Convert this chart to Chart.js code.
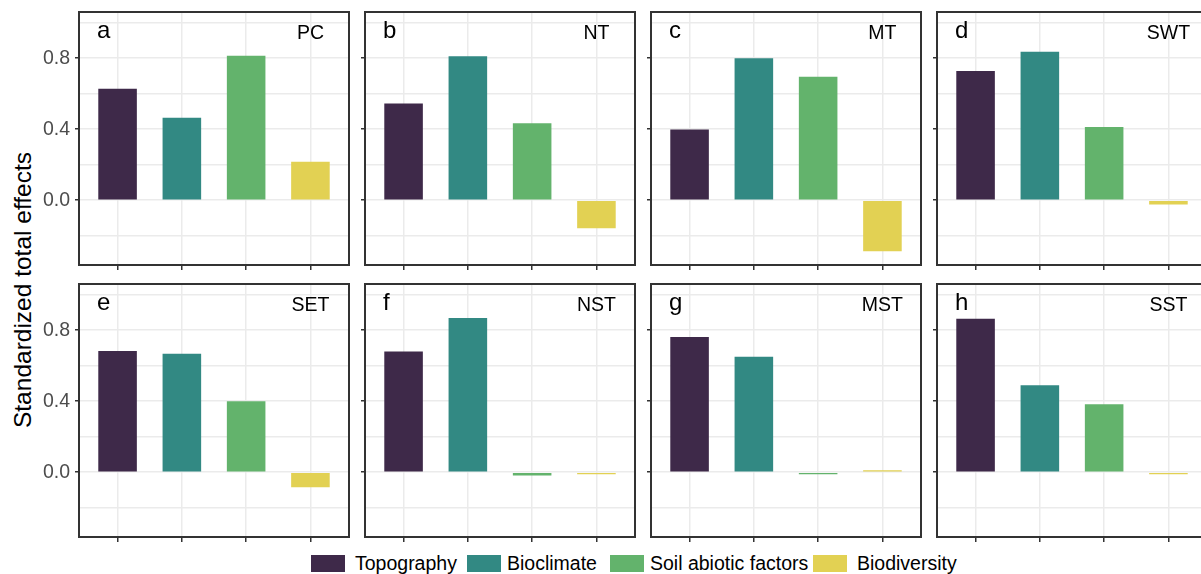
<!DOCTYPE html>
<html>
<head>
<meta charset="utf-8">
<script src="https://cdn.jsdelivr.net/npm/chart.js@4/dist/chart.umd.min.js"></script>
<style>
  html, body { margin: 0; padding: 0; background: #fff; overflow: hidden; width: 1201px; height: 574px; }
  body { position: relative; font-family: "Liberation Sans", Arial, sans-serif; }
  .panel { position: absolute; }
  .ytitle {
    position: absolute; left: 23px; top: 290px;
    transform: translate(-50%, -50%) rotate(-90deg);
    font-size: 24.5px; color: #000; white-space: nowrap;
  }
  .legend-box { position: absolute; width: 34px; height: 17px; top: 555px; }
  .legend-text { position: absolute; top: 552px; font-size: 19.5px; line-height: 22px; color: #000; white-space: nowrap; }
</style>
</head>
<body>
<div class="ytitle">Standardized total effects</div>
<script>
// カテゴリと色
const categories = ['Topography', 'Bioclimate', 'Soil abiotic factors', 'Biodiversity'];
const barColors = ['#3e2949', '#328983', '#63b36c', '#e2d153'];

// パネルのラベル
const panelLetters = ['a', 'b', 'c', 'd', 'e', 'f', 'g', 'h'];
const regionNames = ['PC', 'NT', 'MT', 'SWT', 'SET', 'NST', 'MST', 'SST'];

// 各地域の標準化総効果
const pcEffects  = [0.628, 0.464, 0.813, 0.217];
const ntEffects  = [0.545, 0.811, 0.434, -0.158];
const mtEffects  = [0.398, 0.800, 0.695, -0.287];
const swtEffects = [0.727, 0.836, 0.412, -0.024];
const setEffects = [0.682, 0.667, 0.400, -0.085];
const nstEffects = [0.680, 0.868, -0.019, -0.006];
const mstEffects = [0.761, 0.650, -0.004, 0.004];
const sstEffects = [0.864, 0.490, 0.382, -0.008];
const allEffects = [pcEffects, ntEffects, mtEffects, swtEffects, setEffects, nstEffects, mstEffects, sstEffects];

// 目盛り
const yGridTicks = [-0.2, 0, 0.2, 0.4, 0.6, 0.8, 1.0];
const yLabelTicks = [0, 0.4, 0.8];

// レイアウト（ピクセル）
const colLefts = [79, 364.5, 651, 937];
const rowTops = [12, 283.5];
const PANEL_W = 270;
const PANEL_H = 253;

Chart.defaults.font.family = '"Liberation Sans", Arial, sans-serif';

const isLabeled = v => yLabelTicks.some(t => Math.abs(t - v) < 1e-9);

// パネル枠・文字を描くプラグイン
const panelDecor = {
    id: 'panelDecor',
    afterDraw(chart, args, opts) {
        const { ctx, chartArea: a, scales } = chart;
        ctx.save();
        ctx.strokeStyle = '#333333';
        ctx.lineWidth = 2;
        ctx.strokeRect(a.left, a.top, a.right - a.left, a.bottom - a.top);

        ctx.fillStyle = '#000';
        ctx.textBaseline = 'alphabetic';
        ctx.font = '24px "Liberation Sans", Arial, sans-serif';
        ctx.textAlign = 'left';
        ctx.fillText(opts.letter, a.left + 18, a.top + 26);

        ctx.font = '19.5px "Liberation Sans", Arial, sans-serif';
        ctx.textAlign = 'center';
        ctx.fillText(opts.region, scales.x.getPixelForValue(3), a.top + 27);
        ctx.restore();
    }
};

function makePanel(i) {
    const col = i % 4;
    const row = Math.floor(i / 4);
    const first = col === 0;
    const axisW = first ? 79 : 8;

    const div = document.createElement('div');
    div.className = 'panel';
    div.style.left = (colLefts[col] - axisW) + 'px';
    div.style.top = (rowTops[row] - 2) + 'px';
    div.style.width = (axisW + PANEL_W + 3) + 'px';
    div.style.height = (2 + PANEL_H + 7) + 'px';
    const canvas = document.createElement('canvas');
    div.appendChild(canvas);
    document.body.appendChild(div);

    new Chart(canvas, {
        type: 'bar',
        data: {
            datasets: [{
                data: allEffects[i].map((v, k) => ({ x: k, y: v })),
                backgroundColor: barColors,
                borderWidth: 0,
                barPercentage: 0.6,
                categoryPercentage: 1.0,
                minBarLength: 2
            }]
        },
        options: {
            responsive: true,
            maintainAspectRatio: false,
            animation: false,
            layout: { padding: { top: 2, right: 3, left: 0, bottom: 0 } },
            scales: {
                x: {
                    type: 'linear',
                    offset: false,
                    min: -0.6, max: 3.6,
                    afterBuildTicks: s => { s.ticks = [0, 1, 2, 3].map(v => ({ value: v })); },
                    afterFit: s => { s.height = 7; s.paddingLeft = 0; s.paddingRight = 0; },
                    ticks: { display: false },
                    grid: { offset: false, color: '#ebebeb', lineWidth: 1.5, tickLength: 5, tickColor: '#333333', tickWidth: 1.5 },
                    border: { display: false }
                },
                y: {
                    min: -0.365, max: 1.06,
                    afterBuildTicks: s => { s.ticks = yGridTicks.map(v => ({ value: v })); },
                    afterFit: s => { s.width = axisW; s.paddingTop = 0; s.paddingBottom = 0; },
                    ticks: {
                        display: first,
                        autoSkip: false,
                        padding: 5,
                        color: '#4d4d4d',
                        font: { size: 19.5 },
                        callback: v => isLabeled(v) ? v.toFixed(1) : ''
                    },
                    grid: {
                        color: '#ebebeb', lineWidth: 1.5, tickLength: 4, tickWidth: 1.5,
                        tickColor: c => isLabeled(c.tick.value) ? '#333333' : 'rgba(0,0,0,0)'
                    },
                    border: { display: false }
                }
            },
            plugins: {
                legend: { display: false },
                tooltip: { enabled: false },
                panelDecor: { letter: panelLetters[i], region: regionNames[i] }
            }
        },
        plugins: [panelDecor]
    });
}

allEffects.forEach((_, i) => makePanel(i));

// 凡例（HTML）
const legendBoxX = [311, 467, 610, 813];
const legendTextX = [355, 507, 650, 857];
categories.forEach((name, k) => {
    const box = document.createElement('div');
    box.className = 'legend-box';
    box.style.left = legendBoxX[k] + 'px';
    box.style.background = barColors[k];
    document.body.appendChild(box);
    const txt = document.createElement('div');
    txt.className = 'legend-text';
    txt.style.left = legendTextX[k] + 'px';
    txt.textContent = name;
    document.body.appendChild(txt);
});
</script>
</body>
</html>
